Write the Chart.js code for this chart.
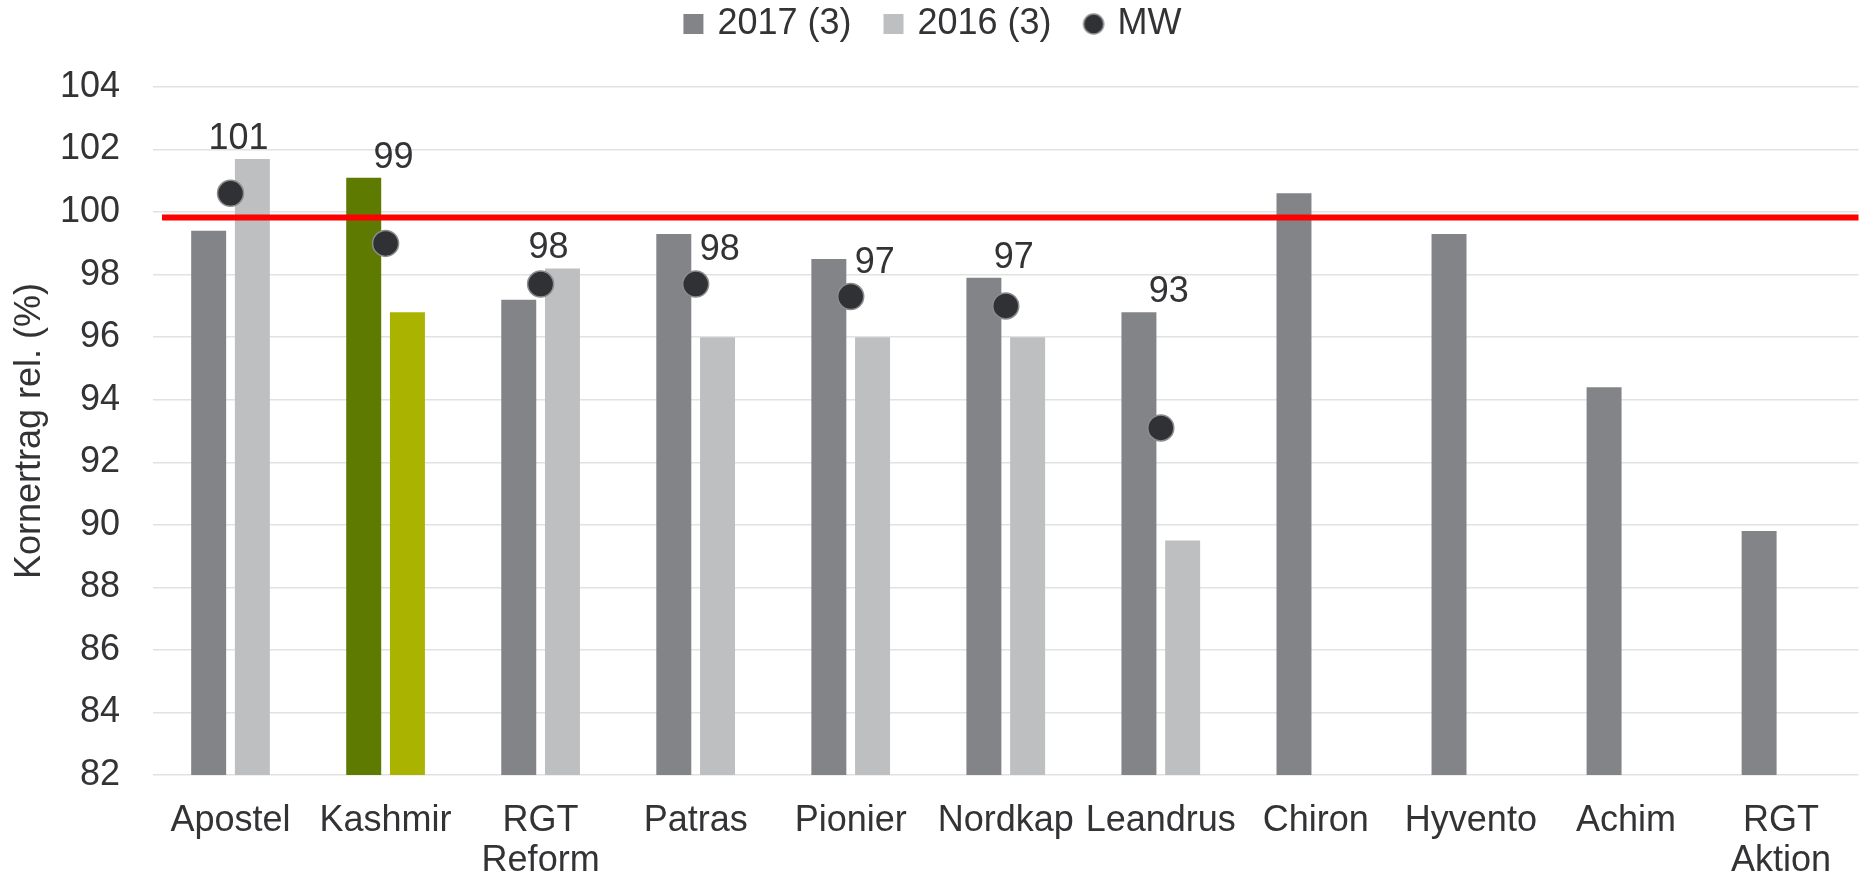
<!DOCTYPE html>
<html>
<head>
<meta charset="utf-8">
<script src="https://cdn.jsdelivr.net/npm/chart.js@4/dist/chart.umd.min.js"></script>
<style>
  html, body { margin: 0; padding: 0; background: #fff; }
  #wrap { width: 1873px; height: 879px; position: relative; }
</style>
</head>
<body>
<div id="wrap"><canvas id="chart"></canvas></div>
<script>
// ============================
// Data
// ============================
const categories = ["Apostel", "Kashmir", ["RGT", "Reform"], "Patras", "Pionier", "Nordkap",
  "Leandrus", "Chiron", "Hyvento", "Achim", ["RGT", "Aktion"]];
const values2017 = [99.4, 101.1, 97.2, 99.3, 98.5, 97.9, 96.8, 100.6, 99.3, 94.4, 89.8];
const values2016 = [101.7, 96.8, 98.2, 96.0, 96.0, 96.0, 89.5, null, null, null, null];
const valuesMW = [100.6, 99.0, 97.7, 97.7, 97.3, 97.0, 93.1, null, null, null, null];
const referenceValue = 99.83;
const yMin = 82;
const yMax = 104;
const yStep = 2;
const highlightIndex = 1; // Kashmir

// ============================
// Styles
// ============================
const FONT = "'Liberation Sans', Arial, sans-serif";
const TEXT = "#333336";
const GRAY_DARK = "#838488";
const GRAY_LIGHT = "#bebfc1";
const GREEN_DARK = "#5f7a00";
const GREEN_LIGHT = "#aab400";
const DOT = "#303135";

Chart.defaults.font.family = FONT;
Chart.defaults.color = TEXT;

// small round marker for the MW legend entry
const mwLegendDot = document.createElement("canvas");
mwLegendDot.width = 24;
mwLegendDot.height = 24;
(() => {
  const c = mwLegendDot.getContext("2d");
  c.beginPath();
  c.arc(12, 12, 10, 0, Math.PI * 2);
  c.fillStyle = DOT;
  c.fill();
  c.lineWidth = 1.5;
  c.strokeStyle = "#8c8c8c";
  c.stroke();
})();

// ============================
// Reference line + MW labels
// ============================
const overlayPlugin = {
  id: "overlay",
  afterDatasetsDraw(chart) {
    const { ctx, chartArea, scales } = chart;
    const refY = scales.y.getPixelForValue(referenceValue);
    ctx.save();
    ctx.strokeStyle = "#ff0000";
    ctx.lineWidth = 6;
    ctx.beginPath();
    ctx.moveTo(chartArea.left + 9, refY);
    ctx.lineTo(chartArea.right, refY);
    ctx.stroke();

    // labels for the mean values, kept clear of bars and the red line
    const dots = chart.getDatasetMeta(2).data;
    ctx.font = "36px " + FONT;
    ctx.fillStyle = TEXT;
    ctx.textAlign = "center";
    ctx.textBaseline = "alphabetic";
    const topOf = (vals) =>
      vals.reduce((t, b) => (b == null ? t : Math.min(t, scales.y.getPixelForValue(b))), Infinity);
    valuesMW.forEach((v, i) => {
      if (v == null) return;
      const pt = dots[i];
      let x = pt.x + 8;
      let base = Math.min(pt.y - 14, topOf([values2017[i], values2016[i]])) - 10;
      if (base > refY - 6 && base - 27 < refY + 6) {
        // would cross the reference line: move beside the 2017 bar
        x = pt.x + 24;
        base = Math.min(pt.y - 14, topOf([values2016[i]])) - 10;
      }
      ctx.fillText(String(Math.round(v)), x, base);
    });
    ctx.restore();
  },
};

// ============================
// Chart
// ============================
const ctx = document.getElementById("chart").getContext("2d");
new Chart(ctx, {
  data: {
    labels: categories,
    datasets: [
      {
        type: "bar",
        label: "2017 (3)",
        data: values2017,
        backgroundColor: (c) => (c.dataIndex === highlightIndex ? GREEN_DARK : GRAY_DARK),
        categoryPercentage: 0.564,
        barPercentage: 0.8,
        order: 2,
      },
      {
        type: "bar",
        label: "2016 (3)",
        data: values2016,
        backgroundColor: (c) => (c.dataIndex === highlightIndex ? GREEN_LIGHT : GRAY_LIGHT),
        categoryPercentage: 0.564,
        barPercentage: 0.8,
        order: 2,
      },
      {
        type: "line",
        label: "MW",
        data: valuesMW,
        showLine: false,
        pointRadius: 13,
        pointHoverRadius: 13,
        pointBackgroundColor: DOT,
        pointBorderColor: "#8c8c8c",
        pointBorderWidth: 1.5,
        backgroundColor: DOT,
        borderColor: "#8c8c8c",
        order: 0,
      },
    ],
  },
  options: {
    responsive: true,
    maintainAspectRatio: false,
    animation: false,
    layout: { padding: { top: -30, right: 4, bottom: -28, left: 0 } },
    plugins: {
      tooltip: { enabled: false },
      // empty spacer between legend and plot
      subtitle: {
        display: true,
        text: " ",
        position: "top",
        weight: 500,
        font: { size: 1, lineHeight: 1 },
        padding: { top: 0, bottom: 34 },
      },
      legend: {
        position: "top",
        labels: {
          font: { size: 36 },
          color: TEXT,
          padding: 36,
          usePointStyle: true,
          boxWidth: 12,
          boxHeight: 20,
          generateLabels(chart) {
            return chart.data.datasets.map((ds, i) => ({
              text: ds.label,
              datasetIndex: i,
              fillStyle: i === 0 ? GRAY_DARK : i === 1 ? GRAY_LIGHT : DOT,
              strokeStyle: "transparent",
              lineWidth: 0,
              pointStyle: i === 2 ? mwLegendDot : "rect",
              fontColor: TEXT,
            }));
          },
        },
      },
    },
    scales: {
      x: {
        grid: { display: false, drawTicks: false },
        border: { display: false },
        ticks: {
          font: { size: 36, lineHeight: 1.11 },
          color: TEXT,
          padding: 26,
          maxRotation: 0,
          autoSkip: false,
        },
      },
      y: {
        min: yMin,
        max: yMax,
        afterFit(scale) {
          scale.width = 153;
        },
        grid: { color: "#e2e2e2", lineWidth: 1.5, drawTicks: false },
        border: { display: false },
        ticks: {
          stepSize: yStep,
          font: { size: 36 },
          color: TEXT,
          padding: 33,
        },
        title: {
          display: true,
          text: "Kornertrag rel. (%)",
          font: { size: 36 },
          color: TEXT,
          padding: { top: 8, bottom: 0 },
        },
      },
    },
  },
  plugins: [overlayPlugin],
});
</script>
</body>
</html>
